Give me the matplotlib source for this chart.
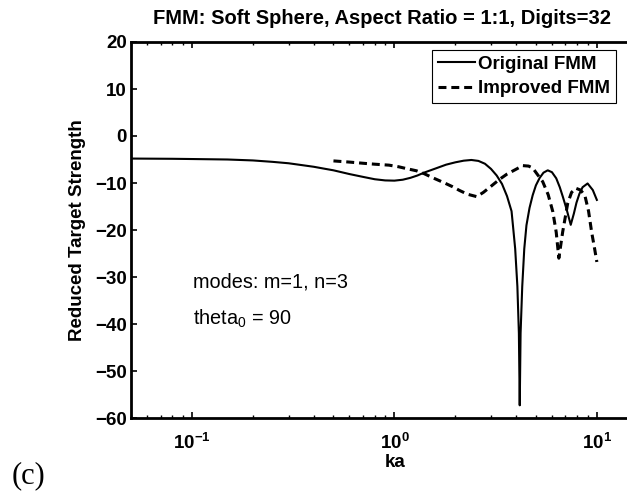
import numpy as np
import matplotlib
matplotlib.use('Agg')
import matplotlib.pyplot as plt
from matplotlib.ticker import FuncFormatter, LogLocator, NullFormatter

# ---- data ----
ka_orig = [0.05, 0.08, 0.1, 0.15, 0.2, 0.25, 0.3, 0.35, 0.4, 0.45, 0.5, 0.6, 0.7,
           0.8, 0.9, 1.0, 1.1, 1.2, 1.3, 1.4, 1.6, 1.8, 2.0, 2.2, 2.4, 2.6, 2.8,
           3.0, 3.2, 3.4, 3.6, 3.79, 3.85, 3.95, 4.05, 4.12, 4.16, 4.2, 4.28,
           4.38, 4.49, 4.65, 4.82, 5.0, 5.22, 5.45, 5.72, 6.0, 6.3, 6.56, 6.8,
           7.08, 7.43, 7.7, 7.93, 8.2, 8.5, 9.0, 9.55, 10.0]
ts_orig = [-4.8, -4.85, -4.9, -5.0, -5.2, -5.5, -5.8, -6.2, -6.55, -6.95, -7.3,
           -8.1, -8.7, -9.2, -9.45, -9.5, -9.3, -8.9, -8.4, -7.8, -6.9, -6.1,
           -5.6, -5.25, -5.1, -5.3, -5.9, -7.0, -8.4, -10.2, -12.8, -16.0, -19.0,
           -24.0, -32.0, -42.0, -57.3, -42.0, -32.0, -24.0, -19.0, -15.3, -12.6,
           -10.5, -8.9, -7.8, -7.3, -7.7, -9.0, -10.9, -13.0, -15.5, -18.9,
           -16.5, -14.2, -12.3, -10.9, -10.1, -11.5, -13.6]

ka_imp = [0.5, 0.6, 0.7, 0.8, 0.94, 1.05, 1.15, 1.285, 1.4, 1.55, 1.75, 1.94,
          2.1, 2.3, 2.55, 2.75, 3.0, 3.31, 3.6, 4.02, 4.3, 4.6, 4.82, 5.03, 5.4,
          5.75, 6.06, 6.3, 6.49, 6.78, 7.18, 7.5, 7.86, 8.3, 8.72, 9.1, 9.42,
          9.75, 10.0]
ts_imp = [-5.3, -5.55, -5.8, -6.0, -6.2, -6.55, -6.95, -7.4, -8.0, -8.9, -9.9,
          -10.8, -11.6, -12.4, -12.9, -12.0, -10.7, -9.2, -8.1, -7.0, -6.3,
          -6.4, -6.8, -7.9, -9.7, -12.5, -16.1, -20.5, -26.0, -20.4, -14.3,
          -12.0, -11.1, -11.5, -12.6, -16.0, -20.4, -24.0, -26.8]

series_labels = ['Original FMM', 'Improved FMM']
yticks = [-60, -50, -40, -30, -20, -10, 0, 10, 20]
xticks = [0.1, 1, 10]
title = 'FMM: Soft Sphere, Aspect Ratio = 1:1, Digits=32'
xlabel = 'ka'
ylabel = 'Reduced Target Strength'
note1 = 'modes: m=1, n=3'
note2 = r'theta$_0$ = 90'
panel = '(c)'

# ---- style ----
plt.rcParams['font.family'] = ['Liberation Sans', 'DejaVu Sans']
plt.rcParams['mathtext.fontset'] = 'custom'
plt.rcParams['mathtext.rm'] = 'Liberation Sans'
plt.rcParams['mathtext.bf'] = 'Liberation Sans:bold'
plt.rcParams['mathtext.it'] = 'Liberation Sans:italic'

W, H = 627, 494
fig = plt.figure(figsize=(W / 100, H / 100), dpi=100)
ax = fig.add_axes([131 / W, 76 / H, 526.8 / W, 376 / H])

ax.plot(ka_orig, ts_orig, color='k', lw=1.5, label=series_labels[0])
ax.plot(ka_imp, ts_imp, color='k', lw=2.2, ls=(0, (2.6, 1.6)),
        label=series_labels[1])

ax.set_xscale('log')
ax.set_xlim(0.05, 20)
ax.set_ylim(-60, 20)
ax.set_yticks(yticks)
ax.set_xticks(xticks)
ax.xaxis.set_major_formatter(
    FuncFormatter(lambda v, p: r'$\mathbf{10^{%d}}$' % int(round(np.log10(v)))))
ax.xaxis.set_minor_locator(LogLocator(base=10, subs=np.arange(2, 10)))
ax.xaxis.set_minor_formatter(NullFormatter())

ax.tick_params(which='both', direction='in', top=True, right=False,
               colors='k')
ax.tick_params(which='major', length=4, width=1.2, labelsize=13.5)
ax.tick_params(axis='y', pad=3)
ax.tick_params(axis='x', pad=11)
ax.tick_params(which='minor', length=2, width=1.0)
for lbl in ax.get_yticklabels():
    lbl.set_fontweight('bold')
for s in ['left', 'bottom', 'top']:
    ax.spines[s].set_linewidth(2)
ax.spines['right'].set_visible(False)

leg = ax.legend(loc='upper left', bbox_to_anchor=(432 / W, 1 - 50 / H),
                bbox_transform=fig.transFigure, frameon=True, fancybox=False,
                edgecolor='k', framealpha=1,
                prop={'weight': 'bold', 'size': 13.5},
                handlelength=2.0, handletextpad=0.15, borderpad=0.3,
                labelspacing=0.4, borderaxespad=0)
leg.get_frame().set_linewidth(0.8)

fig.text(382 / W, 1 - 18 / H, title, ha='center', va='center',
         fontsize=14.5, fontweight='bold')
fig.text(395 / W, 1 - 462 / H, xlabel, ha='center', va='center',
         fontsize=13.5, fontweight='bold')
fig.text(77 / W, 1 - 230 / H, ylabel, ha='center', va='center', rotation=90,
         fontsize=13.5, fontweight='bold')
fig.text(193 / W, 1 - 287 / H, note1, ha='left', va='baseline', fontsize=14.3)
fig.text(193 / W, 1 - 325 / H, note2, ha='left', va='baseline', fontsize=14.3)
fig.text(12 / W, 1 - 476 / H, panel, ha='left', va='center', fontsize=22,
         family=['Liberation Serif', 'DejaVu Serif'])

fig.savefig('out.png', dpi=100)
